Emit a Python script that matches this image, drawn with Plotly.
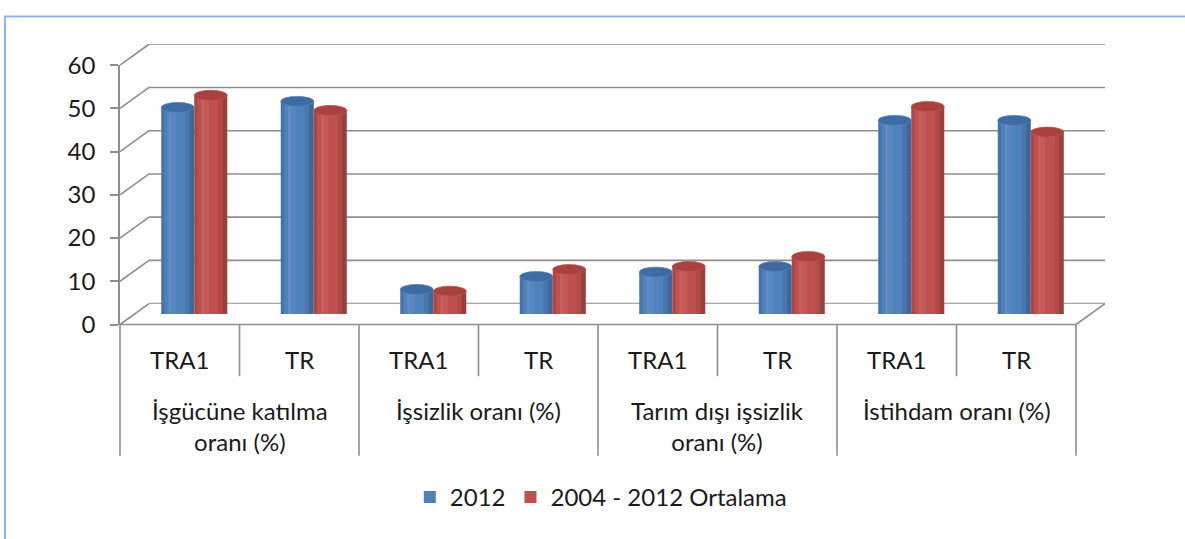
import plotly.graph_objects as go

# ---------------- data ----------------
groups = ["İşgücüne katılma<br>oranı (%)", "İşsizlik oranı (%)",
          "Tarım dışı işsizlik<br>oranı (%)", "İstihdam oranı (%)"]
regions = ["TRA1", "TR", "TRA1", "TR", "TRA1", "TR", "TRA1", "TR"]
series_names = ["2012", "2004 - 2012 Ortalama"]
v2012 = [47.8, 49.2, 5.7, 8.7, 9.7, 11.0, 44.8, 44.8]
vavg = [50.6, 47.1, 5.3, 10.3, 11.0, 13.3, 48.0, 42.1]
y_ticks = [0, 10, 20, 30, 40, 50, 60]

# ---------------- styling / geometry ----------------
W, H = 1185, 539
BLUE, RED = "#4F81BD", "#C0504D"
BLUE_CAP, RED_CAP = "#3E6BA3", "#A9413E"
GRID = "#8E8E8E"
FONT = "Lato, 'Open Sans', sans-serif"
TXT = "#1a1a1a"
FS = 24

# the viewer shows the page slightly squeezed vertically; positions are
# given in target-picture pixels and converted to figure pixels here
OY, SY = 12.6, 0.952

def Y(r):
    return (r - OY) / SY

def px(x):
    return x / W

def py(r):
    return 1 - Y(r) / H

XF0, XF1 = 120, 1076          # front plane x extent
YF0, YF60 = 323, 62           # front plane y (target px) for 0 and 60
DX, DY = 29, -21              # depth offset (front -> back), target px
YMAX = 60

def yfront(v):
    return YF0 - v * (YF0 - YF60) / YMAX

n = len(regions)
xs = list(range(n))
cat_px = (XF1 - XF0) / n
BW = 33 / cat_px                       # bar width in data units
CAP = 10 * YMAX / (YF0 - YF60)         # ellipse height in data units

fig = go.Figure()

# invisible traces to materialise front/back axes
fig.add_trace(go.Scatter(x=[0], y=[0], mode="markers", marker=dict(opacity=0),
                         showlegend=False, hoverinfo="skip", xaxis="x", yaxis="y"))
fig.add_trace(go.Scatter(x=[0], y=[0], mode="markers", marker=dict(opacity=0),
                         showlegend=False, hoverinfo="skip", xaxis="x2", yaxis="y2"))

# cylinder bodies
shade = [(0.0, 0.10, "rgba(0,0,0,0.10)"), (0.22, 0.30, "rgba(255,255,255,0.10)"),
         (0.30, 0.45, "rgba(255,255,255,0.06)"), (0.72, 0.86, "rgba(0,0,0,0.08)"),
         (0.86, 1.0, "rgba(0,0,0,0.20)")]
for name, vals, off, col in [(series_names[0], v2012, -BW, BLUE), (series_names[1], vavg, 0, RED)]:
    fig.add_trace(go.Bar(x=xs, y=vals, name=name, marker=dict(color=col, line=dict(width=0)),
                         offset=off, width=BW, xaxis="x3", yaxis="y3"))
    for a, b, c in shade:
        fig.add_trace(go.Bar(x=xs, y=vals, marker=dict(color=c, line=dict(width=0)),
                             offset=off + a * BW, width=(b - a) * BW, xaxis="x3", yaxis="y3",
                             showlegend=False, hoverinfo="skip"))

shapes = []
# back wall gridlines and side diagonals
for v in y_ticks:
    shapes.append(dict(type="line", xref="paper", yref="y2", x0=px(XF0 + DX), x1=px(XF1 + DX),
                       y0=v, y1=v, line=dict(color=GRID, width=1.6), layer="below"))
    shapes.append(dict(type="line", xref="paper", yref="paper",
                       x0=px(XF0), y0=py(yfront(v)), x1=px(XF0 + DX), y1=py(yfront(v) + DY),
                       line=dict(color=GRID, width=1.6), layer="below"))
# floor front edge and right diagonal
shapes.append(dict(type="line", xref="paper", yref="paper", x0=px(XF0), x1=px(XF1),
                   y0=py(YF0), y1=py(YF0), line=dict(color=GRID, width=1.6)))
shapes.append(dict(type="line", xref="paper", yref="paper", x0=px(XF1), y0=py(YF0),
                   x1=px(XF1 + DX), y1=py(YF0 + DY), line=dict(color=GRID, width=1.6)))
# table dividers below the axis
TB = 455
for k in range(len(groups) + 1):
    xx = XF0 + k * 2 * cat_px
    shapes.append(dict(type="line", xref="paper", yref="paper", x0=px(xx), x1=px(xx),
                       y0=py(YF0), y1=py(TB), line=dict(color=GRID, width=1.6)))
for k in range(len(groups)):
    xx = XF0 + (2 * k + 1) * cat_px
    shapes.append(dict(type="line", xref="paper", yref="paper", x0=px(xx), x1=px(xx),
                       y0=py(YF0), y1=py(375), line=dict(color=GRID, width=1.6)))

# cylinder bottoms and caps
for vals, off, body, cap in [(v2012, -BW, BLUE, BLUE_CAP), (vavg, 0, RED, RED_CAP)]:
    for i, v in enumerate(vals):
        shapes.append(dict(type="circle", xref="x3", yref="y3", x0=i + off, x1=i + off + BW,
                           y0=-CAP / 2, y1=CAP / 2, fillcolor=body, line=dict(width=0), layer="below"))
        shapes.append(dict(type="circle", xref="x3", yref="y3", x0=i + off, x1=i + off + BW,
                           y0=v - CAP / 2, y1=v + CAP / 2, fillcolor=cap,
                           line=dict(width=0.8, color=body), layer="above"))

# outer border
shapes.append(dict(type="rect", xref="paper", yref="paper", x0=px(5), x1=1.05, y0=-0.05, y1=0.999,
                   line=dict(color="#8DB4E2", width=2), fillcolor="rgba(0,0,0,0)"))

annotations = []
for i, r in enumerate(regions):
    annotations.append(dict(x=i, y=py(358), xref="x", yref="paper", text=r, showarrow=False,
                            font=dict(family=FONT, size=FS, color=TXT), xanchor="center", yanchor="middle"))
for g, gname in enumerate(groups):
    ymid = 425 if "<br>" in gname else 410
    annotations.append(dict(x=2 * g + 0.5, y=py(ymid), xref="x", yref="paper", text=gname, showarrow=False,
                            font=dict(family=FONT, size=FS, color=TXT), xanchor="center", yanchor="middle"))

fig.update_layout(
    width=W, height=H,
    margin=dict(l=0, r=0, t=0, b=0),
    paper_bgcolor="white", plot_bgcolor="rgba(0,0,0,0)",
    barmode="overlay",
    font=dict(family=FONT, size=FS, color=TXT),
    xaxis=dict(domain=[px(XF0), px(XF1)], range=[-0.5, n - 0.5], showgrid=False, zeroline=False,
               showticklabels=False, showline=False, ticks=""),
    yaxis=dict(domain=[py(YF0), py(YF60)], range=[0, YMAX], tickvals=y_ticks, ticks="outside",
               ticklen=8, tickwidth=1.6, tickcolor=GRID, showline=True, linecolor=GRID, linewidth=1.6,
               showgrid=False, zeroline=False, tickfont=dict(size=FS, color=TXT), ticklabelstandoff=10),
    xaxis2=dict(domain=[px(XF0 + DX), px(XF1 + DX)], range=[-0.5, n - 0.5], visible=False, anchor="y2"),
    yaxis2=dict(domain=[py(YF0 + DY), py(YF60 + DY)], range=[0, YMAX], visible=False, anchor="x2"),
    xaxis3=dict(domain=[px(XF0 + DX / 2), px(XF1 + DX / 2)], range=[-0.5, n - 0.5], visible=False, anchor="y3"),
    yaxis3=dict(domain=[py(YF0 + DY / 2), py(YF60 + DY / 2)], range=[0, YMAX], visible=False, anchor="x3"),
    legend=dict(orientation="h", x=0.507, xanchor="center", y=py(497), yanchor="middle",
                font=dict(size=FS, color=TXT), bgcolor="rgba(0,0,0,0)", itemwidth=30),
    shapes=shapes,
    annotations=annotations,
    showlegend=True,
)

fig.write_html("out.html",
               config={"displayModeBar": False},
               post_script="document.body.style.margin='0';"
                           "document.documentElement.style.overflow='hidden';"
                           "document.body.style.overflow='hidden';")
